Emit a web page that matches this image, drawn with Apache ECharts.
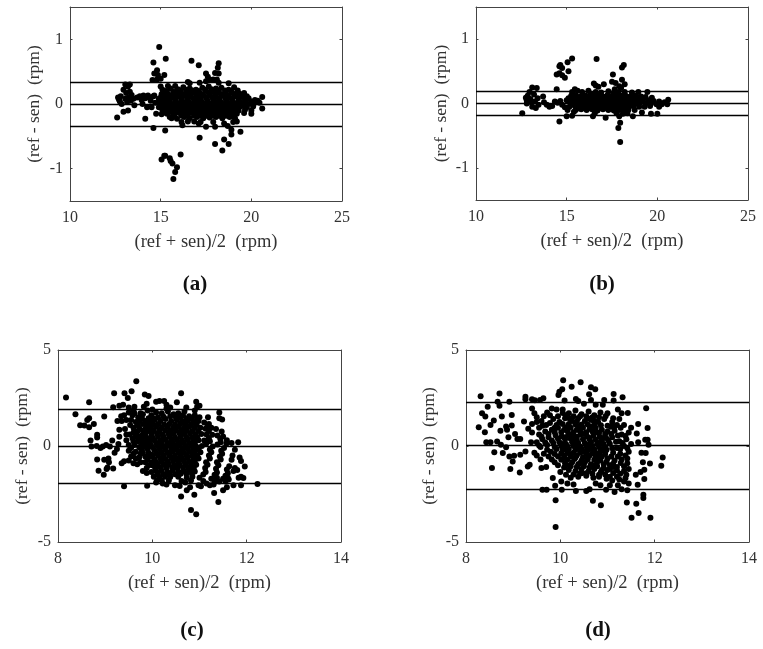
<!DOCTYPE html>
<html><head><meta charset="utf-8">
<script src="https://cdn.jsdelivr.net/npm/echarts@6/dist/echarts.min.js"></script>
<style>html,body{margin:0;padding:0;background:#fff}#c{width:763px;height:649px}</style>
</head><body><div id="c"></div>
<script>
const xTicksTop = [10, 15, 20, 25];
const yTicksTop = [-1, 0, 1];
const xTicksBottom = [8, 10, 12, 14];
const yTicksBottom = [-5, 0, 5];
const xName = '(ref + sen)/2  (rpm)';
const yName = '(ref - sen)  (rpm)';
const limitsA = [0.34, -0.01, -0.34];
const limitsB = [0.19, 0.01, -0.18];
const limitsC = [1.93, -0.03, -1.93];
const limitsD = [2.26, 0.04, -2.26];

const pointsA = [
[14.92,.88],[15.28,.7],[14.6,.64],[16.7,.67],[17.1,.6],[18.2,.63],[18.15,.56],[14.8,.52],[14.65,.47],[14.85,.45],[15.2,.45],[14.55,.37],[14.8,.38],[15,.39],[18,.48],[18.2,.47],[17.5,.47],[17.6,.42],[17.7,.38],[17.5,.35],[17.9,.38],[18.1,.38],[18.2,.33],[17.15,.33],[16.5,.34],[16.6,.32],[18.75,.32],[15,.27],[15.1,.22],[15.4,.28],[15.8,.28],
[15.05,-.86],[15.2,-.8],[15.25,-.8],[15.5,-.84],[15.55,-.88],[15.65,-.92],[16.1,-.78],[15.9,-.98],[15.8,-1.05],[15.7,-1.16],[17.15,-.52],[18,-.62],[18.5,-.55],[18.75,-.62],[18.4,-.72],[14.15,-.23],[12.6,-.21],[14.6,-.37],[15.25,-.41],[19.4,-.43],[18.9,-.4],[18.9,-.47],[18.7,-.34],[17.5,-.35],[18,-.35],[16.2,-.33],[17.1,-.3],[19,-.28],[19.2,-.27],
[12.65,.1],[12.7,.07],[12.75,.04],[12.8,.12],[12.85,0],[12.95,.22],[12.95,-.12],[13.05,.3],[13.05,.08],[13.1,.17],[13.15,.03],[13.2,.27],[13.2,-.1],[13.25,.1],[13.3,.3],[13.3,.19],[13.35,.05],[13.4,.14],[13.5,.08],[13.55,-.02],[13.7,.1],[13.85,.12],[13.95,.06],[14,0],[14.05,.13],[14.15,.09],[14.25,-.05],[14.3,.13],[14.4,.1],[14.45,.05],[14.5,-.05],[14.6,.12],[14.65,.13],[14.7,.02],[14.75,-.15],[14.9,.08],[14.9,-.05],
[15.15,.2],[15.55,.24],[15.95,.23],[16.25,.26],[16.6,.24],[16.95,.22],[17.3,.25],[17.65,.27],[18.05,.24],[18.35,.25],[18.75,.22],[19.05,.26],[19.25,.21],[19.6,.17],
[15.05,.15],[15.4,.16],[15.8,.17],[16.1,.18],[16.45,.19],[16.8,.18],[17.15,.17],[17.5,.2],[17.85,.19],[18.2,.18],[18.55,.17],[18.95,.17],[19.35,.16],[19.75,.12],
[15,.1],[15.3,.12],[15.65,.11],[15.95,.12],[16.3,.13],[16.65,.12],[17,.12],[17.35,.13],[17.7,.14],[18.05,.12],[18.4,.13],[18.75,.11],[19.1,.12],[19.5,.11],[19.85,.09],[20.2,.06],[20.6,.11],
[14.95,.04],[15.2,.06],[15.5,.06],[15.8,.05],[16.15,.07],[16.5,.07],[16.85,.06],[17.2,.07],[17.55,.08],[17.9,.06],[18.25,.07],[18.6,.06],[18.95,.07],[19.3,.06],[19.65,.05],[20,.04],[20.35,.05],
[15.05,0],[15.35,.01],[15.7,0],[16,.01],[16.35,.02],[16.7,0],[17.05,.02],[17.4,.01],[17.75,0],[18.1,.02],[18.45,0],[18.8,.01],[19.15,0],[19.5,.01],[19.85,0],[20.15,.01],[20.45,.02],
[15,-.05],[15.25,-.04],[15.6,-.05],[15.9,-.04],[16.25,-.05],[16.6,-.04],[16.95,-.05],[17.3,-.04],[17.65,-.06],[18,-.04],[18.35,-.05],[18.7,-.04],[19.05,-.05],[19.4,-.04],[19.75,-.05],[20.1,-.04],[20.6,-.07],
[15.1,-.1],[15.45,-.1],[15.8,-.09],[16.1,-.1],[16.45,-.09],[16.8,-.1],[17.15,-.09],[17.5,-.11],[17.85,-.09],[18.2,-.1],[18.55,-.09],[18.9,-.1],[19.3,-.1],[19.65,-.09],[20,-.1],
[15.05,-.16],[15.35,-.15],[15.7,-.15],[16.05,-.14],[16.4,-.15],[16.75,-.14],[17.1,-.15],[17.45,-.16],[17.8,-.15],[18.15,-.14],[18.5,-.15],[18.85,-.14],[19.2,-.15],[19.6,-.14],[20,-.15],
[15.6,-.22],[15.9,-.23],[16.3,-.2],[16.6,-.22],[17,-.2],[17.35,-.22],[17.7,-.21],[18.05,-.2],[18.4,-.22],[18.8,-.2],[19.1,-.22],
[16.15,-.28],[16.5,-.27],[16.85,-.27],[17.2,-.28],[17.9,-.28],[18.5,-.3],[15.5,-.2],
[15.3,.2],[15.7,.19],[16.1,.21],[16.4,.22],[16.75,.21],[17.1,.2],[17.45,.22],[17.8,.23],[18.2,.21],[18.55,.21],[18.9,.2],
[15.2,.14],[15.55,.13],[15.9,.15],[16.25,.15],[16.6,.16],[16.95,.15],[17.3,.15],[17.65,.17],[18,.16],[18.35,.15],[18.7,.14],[19.1,.15],[19.5,.14],
[15.15,.08],[15.45,.09],[15.8,.08],[16.1,.1],[16.45,.1],[16.8,.09],[17.15,.09],[17.5,.1],[17.85,.1],[18.2,.09],[18.55,.1],[18.9,.09],[19.3,.09],[19.7,.07],
[15.2,.03],[15.5,.02],[15.85,.03],[16.2,.04],[16.55,.03],[16.9,.03],[17.25,.04],[17.6,.04],[17.95,.03],[18.3,.03],[18.65,.03],[19,.03],[19.35,.03],
[15.15,-.03],[15.45,-.02],[15.75,-.02],[16.1,-.02],[16.45,-.01],[16.8,-.02],[17.15,-.01],[17.5,-.02],[17.85,-.02],[18.2,-.02],[18.55,-.02],[18.9,-.02],[19.25,-.02],[19.6,-.02],
[15.3,-.07],[15.65,-.08],[16,-.07],[16.35,-.07],[16.7,-.07],[17.05,-.07],[17.4,-.07],[17.75,-.08],[18.1,-.07],[18.45,-.08],[18.8,-.07],[19.2,-.07],
[15.25,-.13],[15.6,-.12],[15.95,-.13],[16.3,-.12],[16.65,-.12],[17,-.12],[17.35,-.13],[17.7,-.13],[18.05,-.12],[18.4,-.12],[18.75,-.12],[19.1,-.12],
[15.75,-.19],[16.15,-.18],[16.5,-.18],[16.85,-.18],[17.2,-.18],[17.55,-.18],[17.9,-.18],[18.25,-.18],[18.6,-.18],[18.95,-.18]
];

const pointsB = [
[15.3,.7],[15.05,.64],[14.65,.6],[14.75,.55],[14.6,.58],[16.65,.69],[18.15,.6],[18.05,.56],[15.1,.5],[14.45,.45],[14.6,.47],[14.75,.44],[14.9,.4],[17.55,.45],[17.5,.34],[17.7,.32],[18.05,.37],[18.2,.3],[17.05,.3],[16.5,.31],[16.6,.28],[16.75,.26],[17.65,.22],[17.9,.27],[18,.24],[14.45,.22],
[14.6,-.28],[17.95,-.3],[17.85,-.38],[17.95,-.6],[12.55,-.15],[15,-.2],[15.3,-.19],[16.45,-.2],[17.15,-.22],[17.9,-.2],[18.65,-.2],[19.15,-.14],[19.65,-.16],[20,-.16],
[12.75,.09],[12.8,.05],[12.85,.12],[12.8,0],[12.95,.18],[13,.07],[13.05,.02],[13.1,.25],[13.1,-.05],[13.2,.14],[13.25,.03],[13.3,-.07],[13.35,.24],[13.4,.08],[13.45,-.02],[13.7,.11],[13.75,.02],[13.9,-.02],[14.05,-.05],[14.2,-.04],[14.35,.03],[14.5,.01],[14.65,.04],[14.75,-.02],[14.9,-.06],[15,.05],[15.05,-.1],
[15.45,.22],[15.6,.2],[15.3,.18],[15.85,.18],[16.2,.2],[16.35,.15],[16.6,.18],[16.9,.17],[17.3,.19],[17.6,.17],[17.85,.18],[18.2,.18],[18.6,.17],[18.95,.18],[19.45,.18],
[15.1,.08],[15.25,.12],[15.5,.13],[15.75,.11],[16,.13],[16.25,.12],[16.5,.12],[16.75,.13],[17,.11],[17.25,.13],[17.5,.12],[17.75,.13],[18,.12],[18.25,.12],[18.5,.11],[18.8,.12],[19.1,.11],[19.35,.1],[19.7,.09],
[15.15,.03],[15.4,.06],[15.65,.07],[15.9,.06],[16.15,.07],[16.4,.06],[16.65,.08],[16.9,.06],[17.15,.07],[17.4,.06],[17.65,.08],[17.9,.07],[18.15,.06],[18.4,.06],[18.65,.05],[18.9,.06],[19.2,.05],[19.5,.05],[19.8,.04],[20.1,.03],[20.4,.02],[20.6,.06],
[15.3,0],[15.55,.01],[15.8,0],[16.05,.01],[16.3,.01],[16.55,0],[16.8,.01],[17.05,.01],[17.3,0],[17.55,.01],[17.8,0],[18.05,.01],[18.3,0],[18.55,.01],[18.8,0],[19.05,.01],[19.35,0],[19.65,0],[19.95,-.01],[20.25,-.01],[20.55,-.01],
[15.15,-.05],[15.45,-.04],[15.7,-.05],[15.95,-.04],[16.2,-.05],[16.45,-.04],[16.7,-.05],[16.95,-.04],[17.2,-.05],[17.45,-.04],[17.7,-.05],[17.95,-.04],[18.2,-.05],[18.45,-.05],[18.7,-.04],[19,-.05],[19.3,-.05],[19.6,-.04],[20.1,-.05],
[15.5,-.1],[15.8,-.09],[16.1,-.1],[16.4,-.09],[16.7,-.11],[17,-.09],[17.3,-.1],[17.6,-.11],[17.9,-.1],[18.15,-.12],[18.4,-.1],[18.75,-.1],[15.4,-.13],[16.55,-.15],[17.75,-.15],[18.1,-.16],[18.35,-.15],
[15.4,.1],[15.6,.09],[15.85,.09],[16.1,.1],[16.35,.09],[16.6,.1],[16.85,.09],[17.1,.1],[17.35,.09],[17.6,.1],[17.85,.1],[18.1,.09],[18.35,.09],[18.6,.09],[18.9,.09],
[15.25,.03],[15.5,.03],[15.75,.03],[16,.03],[16.25,.03],[16.5,.03],[16.75,.04],[17,.03],[17.25,.03],[17.5,.03],[17.75,.04],[18,.03],[18.25,.03],[18.5,.03],[18.75,.03],[19.1,.03],
[15.6,-.03],[15.85,-.02],[16.1,-.02],[16.35,-.02],[16.6,-.02],[16.85,-.02],[17.1,-.02],[17.35,-.02],[17.6,-.02],[17.85,-.02],[18.1,-.02],[18.35,-.02],[18.6,-.02],
[15.65,-.07],[15.95,-.07],[16.25,-.07],[16.55,-.08],[16.85,-.07],[17.15,-.07],[17.45,-.08],[17.75,-.08],[18.05,-.07],[18.3,-.08]
];

const pointsC = [
[8.17,2.52],[8.37,1.65],[8.47,1.08],[8.56,1.07],[8.66,2.28],[8.62,1.36],[8.66,1.45],[8.66,.98],[8.76,1.15],[8.69,.29],[8.71,-.03],[8.83,.58],[8.83,.44],[8.83,-.7],[8.86,-1.29],[8.98,1.53],[8.97,-1.5],[9.03,-1.2],[9.05,-1.12],[9.19,2.75],[9.17,2.02],[9.17,-1.17],[9.41,2.75],[9.56,2.85],[9.48,2.5],[9.66,3.37],[9.84,2.68],[9.92,2.61],[9.4,-2.1],[9.89,-2.07],[10.61,2.75],[10.52,2.28],[10.61,-2.63],[10.82,-3.33],[10.93,-3.56],[10.89,-2.54],[11.4,-2.92],[11.31,-2.45],[12.23,-1.98],[11.96,-1.07],[11.82,.2],[11.93,-1.67],
[8.82,0],[8.9,-.1],[8.95,-.03],[9.02,.05],[9.1,-.02],[9.15,.28],[8.98,-.72],[9.07,-.65],[9.08,-.85],[9.2,-.35],[9.25,-.15],[9.28,.1],[9.3,.85],[9.3,.48],[9.26,1.3],[9.35,1.3],[9.34,1.55],[9.3,2.1],[9.38,2.15],[9.4,1.6],[9.42,.88],[9.35,-.9],[9.4,-.8],[9.45,.3],[9.5,-.25],[9.55,-.55],[9.52,.6],[9.53,1.1],[9.5,2],[9.58,1.6],[9.6,1.85],[9.62,2.05],[9.6,-.9],[9.65,-.3],[9.7,.25],[9.68,.75],[9.72,1.3],[9.75,-.85],[9.8,1.65],[9.82,2.05],[9.88,2.2],[9.85,-.55],[9.8,-1.3],[9.88,-1.4],[9.92,-1],[9.9,.4],[9.93,1.1],[9.98,-1.35],[10,1.9],
[10.15,2.35],[10.25,2.35],[10.3,2.15],[10.08,2.3],[10.72,2],[10.68,1.8],[10.93,2.3],[10.95,2.05],[10.9,1.85],[11,2.1],[11.42,1.75],[11.42,1.45],[11.48,1.38],[11.18,1.5],[10.38,2],[10.3,1.95],
[9.98,1.6],[10.08,1.75],[10.2,1.7],[10.33,1.8],[10.45,1.65],[10.55,1.7],[10.65,1.6],[10.78,1.55],[10.9,1.6],[11,1.5],
[9.95,1.25],[10.05,1.35],[10.17,1.3],[10.28,1.4],[10.4,1.3],[10.52,1.35],[10.63,1.28],[10.75,1.32],[10.87,1.25],[10.98,1.3],[11.1,1.22],[11.2,1.15],
[9.85,.9],[9.97,.95],[10.08,1],[10.2,.95],[10.32,1],[10.44,.95],[10.55,1],[10.67,.95],[10.78,1],[10.9,.95],[11.02,.95],[11.13,.9],[11.25,.95],[11.35,.88],[11.47,.75],
[9.78,.55],[9.98,.62],[10.1,.65],[10.22,.6],[10.34,.65],[10.45,.62],[10.57,.68],[10.68,.62],[10.8,.66],[10.92,.6],[11.04,.62],[11.15,.6],[11.27,.58],[11.38,.55],[11.5,.5],[11.58,.3],
[9.82,.1],[9.95,.25],[10.05,.3],[10.17,.3],[10.28,.33],[10.4,.28],[10.52,.33],[10.63,.3],[10.75,.32],[10.87,.28],[10.98,.3],[11.1,.28],[11.22,.25],[11.45,.2],[11.57,.12],[11.68,.15],
[9.9,-.15],[10,-.05],[10.12,0],[10.24,-.02],[10.35,.02],[10.47,-.03],[10.58,.02],[10.7,-.02],[10.82,0],[10.93,-.03],[11.05,0],[11.28,-.02],[11.52,-.1],[11.75,-.2],
[9.72,-.6],[9.98,-.45],[10.08,-.35],[10.2,-.32],[10.32,-.35],[10.43,-.3],[10.55,-.33],[10.67,-.35],[10.78,-.3],[10.9,-.35],[11.02,-.32],[11.25,-.33],[11.48,-.4],[11.7,-.5],
[10.05,-.7],[10.17,-.65],[10.28,-.68],[10.4,-.62],[10.52,-.66],[10.63,-.65],[10.75,-.62],[10.87,-.67],[10.98,-.65],[11.22,-.65],[11.45,-.7],[11.68,-.72],[11.85,-.6],[11.88,-.78],
[10,-1],[10.12,-1],[10.24,-.98],[10.35,-.95],[10.47,-1],[10.58,-.98],[10.7,-.95],[10.82,-1],[10.93,-.98],[11.17,-.98],[11.4,-1],[11.63,-1.05],[11.75,-1.15],
[10.08,-1.32],[10.2,-1.3],[10.32,-1.35],[10.43,-1.28],[10.55,-1.33],[10.67,-1.3],[10.78,-1.25],[10.9,-1.33],[11.13,-1.35],[11.37,-1.38],[11.6,-1.42],[11.72,-1.3],[11.8,-1.25],
[10.03,-1.6],[10.15,-1.65],[10.27,-1.6],[10.38,-1.62],[10.55,-1.6],[10.73,-1.65],[10.85,-1.6],[11,-1.65],[11.25,-1.7],[11.37,-1.65],[11.5,-1.7],[11.6,-1.65],[11.83,-1.65],[11.88,-1.6],
[10.08,-1.9],[10.22,-1.95],[10.3,-2],[10.48,-2.05],[10.58,-2.08],[10.7,-1.9],[10.8,-2.15],[10.73,-2.3],[10.98,-2.05],[11.03,-2.1],[11.15,-1.95],[11.22,-2.05],[11.3,-2],[11.42,-1.85],[11.5,-2.3],[11.58,-2.15],[11.72,-2.05],[11.88,-2.05],
[10.02,1.45],[10.12,1.5],[10.24,1.52],[10.38,1.55],[10.5,1.48],[10.6,1.47],[10.72,1.42],[10.84,1.4],[10.95,1.42],
[9.9,1.08],[10.02,1.12],[10.13,1.15],[10.25,1.12],[10.36,1.15],[10.48,1.12],[10.59,1.15],[10.71,1.12],[10.82,1.12],[10.94,1.1],[11.17,1.02],
[9.82,.72],[9.92,.78],[10.03,.8],[10.15,.8],[10.27,.82],[10.38,.8],[10.5,.82],[10.61,.8],[10.73,.82],[10.85,.78],[10.97,.78],[11.2,.78],
[9.78,.3],[9.88,.42],[10,.45],[10.12,.48],[10.24,.47],[10.36,.48],[10.48,.46],[10.6,.48],[10.72,.47],[10.84,.46],[10.95,.45],[11.2,.42],[11.44,.38],
[9.75,-.1],[9.85,-.02],[9.96,.08],[10.08,.15],[10.2,.14],[10.32,.16],[10.44,.13],[10.55,.16],[10.67,.14],[10.78,.15],[10.9,.13],[11.14,.12],[11.38,.08],
[9.8,-.35],[9.92,-.35],[10.04,-.2],[10.16,-.17],[10.28,-.18],[10.4,-.15],[10.52,-.18],[10.63,-.17],[10.75,-.16],[10.87,-.18],[10.98,-.18],[11.22,-.18],[11.46,-.25],
[9.9,-.7],[10,-.55],[10.12,-.5],[10.24,-.5],[10.36,-.48],[10.48,-.5],[10.6,-.5],[10.72,-.48],[10.84,-.5],[10.95,-.5],[11.2,-.5],[11.43,-.55],
[9.98,-.85],[10.08,-.85],[10.2,-.82],[10.32,-.82],[10.44,-.8],[10.55,-.82],[10.67,-.8],[10.78,-.82],[10.9,-.82],[11.14,-.85],[11.37,-.85],
[10.06,-1.15],[10.18,-1.15],[10.3,-1.15],[10.42,-1.12],[10.53,-1.15],[10.65,-1.12],[10.76,-1.12],[10.88,-1.15],[11.12,-1.15],[11.35,-1.18],[11.58,-1.22],
[10.12,-1.48],[10.24,-1.48],[10.36,-1.45],[10.48,-1.47],[10.6,-1.45],[10.72,-1.45],[10.84,-1.45],[11.08,-1.48],[11.32,-1.5],[11.55,-1.55],
[10.1,-1.78],[10.2,-1.8],[10.35,-1.8],[10.62,-1.82],[10.82,-1.8],[11.08,-1.82],[11.32,-1.82],[11.55,-1.85],[11.62,-1.75],
[9.5,1.75],[9.62,1.7],[9.7,1.5],[9.78,1.45],[9.85,1.3],[9.68,1.1],[9.6,.95],[9.72,.95],[9.58,.4],[9.62,.05],[9.72,-.05],[9.55,-.1],[9.65,-.65],[9.78,-.2],
[9.45,1.35],[9.55,1.35],[9.65,1.25],[9.8,1.15],[9.75,1.7],[9.9,1.85],[9.92,1.45],[9.45,.6],[9.6,.7],[9.65,.5],[9.8,.8],[9.72,.5],[9.85,.6],[9.5,.05],[9.6,.25],[9.78,.05],[9.88,.2],[9.6,-.4],[9.75,-.4],[9.5,-.75],[9.68,-.95],[9.85,-.85],[9.92,-.55],[9.88,-1.15]
];

const pointsD = [
[8.31,2.59],[8.71,2.73],[8.27,.98],[8.34,1.7],[8.41,1.53],[8.46,2.05],[8.4,.72],[8.43,.2],[8.52,.2],[8.55,-1.15],[8.6,-.32],[8.59,1.33],[8.52,1.1],[8.67,2.31],[8.71,2.09],[8.73,.79],[8.66,.23],[8.76,1.53],[8.74,.06],[8.78,-.37],[8.85,1.01],[8.87,.84],[8.9,.46],[8.85,-.06],[8.92,2.31],[8.97,1.62],[8.97,1.07],[8.92,-.55],[8.99,-.81],[8.94,-1.2],[9.02,-.51],[9.04,.63],[9.09,.37],[9.15,.36],[9.14,-1.38],[9.15,-.46],[9.23,1.27],[9.26,2.57],[9.26,2.43],[9.26,-.29],[9.31,-1.07],[9.35,-.98],
[9.9,-4.22],[9.9,-2.82],[10.69,-2.85],[10.86,-3.08],[11.41,-2.94],[11.61,-3.01],[11.51,-3.74],[11.66,-3.49],[11.91,-3.74],[11.76,-2.54],[11.76,-2.71],[12.17,-.6],[12.14,-1.03],[11.9,-.91],[11.82,1.97],[11.85,.94],[11.85,.32],[11.8,.32],[11.87,.06],[11.81,-.37],[11.78,-1.24],[11.78,-1.72],[11.64,-2.02],
[10.06,3.42],[10.43,3.32],[10.24,3.09],[10.65,3.06],[10.74,2.95],[10.04,2.95],[9.98,2.83],[9.96,2.66],[10.61,2.69],[11.13,2.71],[11.32,2.54],[11.13,2.37],[10.33,2.45],[10.09,2.37],[10.93,2.4],[9.64,2.49],[9.57,2.4],[9.4,2.43],[9.46,2.38],[10.38,2.35],[10.65,2.4],[10.5,2.2],
[9.62,-2.28],[9.71,-2.28],[9.89,-2.07],[9.84,-1.67],[10.03,-2.28],[10.02,-1.85],[10.15,-1.95],[10.28,-2],[10.33,-2.35],[10.55,-2.35],[10.62,-2.25],[10.75,-1.95],[10.85,-2.05],[10.97,-2.28],[11.05,-2.05],[11.15,-2.4],[11.22,-2.05],[11.3,-2.25],[11.42,-2.3],[11.45,-1.95],[11.6,-1.5],[11.7,-1.35],[11.75,-.85],[11.72,-.35],[11.65,.2],[11.62,.65],[11.65,1.15],[11.5,.95],[11.43,1.72],[11.22,1.9],[11.3,1.7],[10.9,2.15],[10.75,2.15],[9.4,1.95],[9.45,1.7],[9.5,1.5],[9.5,1.25],[9.4,1.15],[9.32,.9],[9.4,.7],[9.38,.2],[9.45,-.35],[9.5,-.5],[9.6,-1.15],[9.58,-.7],[9.7,-1.1],
[9.6,1.3],[9.72,1.75],[9.82,1.95],[9.92,1.9],[10.05,1.9],[10.18,1.7],[10.32,1.85],[10.45,1.65],[10.6,1.8],[10.72,1.6],[10.85,1.75],[11,1.7],[11.1,1.25],
[9.55,.95],[9.7,1.1],[9.85,1.4],[9.98,1.25],[10.1,1.45],[10.25,1.3],[10.38,1.45],[10.52,1.3],[10.66,1.35],[10.8,1.25],[10.93,1.4],[11.07,1],[11.2,1.1],[11.35,1.1],
[9.55,.6],[9.68,.75],[9.82,.85],[9.95,.95],[10.08,.85],[10.22,.95],[10.35,.85],[10.48,.95],[10.62,.88],[10.75,.95],[10.88,.85],[11,.75],[11.15,.8],[11.3,.6],[11.45,.7],
[9.5,.2],[9.62,.35],[9.75,.45],[9.9,.55],[10.03,.5],[10.17,.6],[10.3,.5],[10.43,.6],[10.57,.5],[10.7,.55],[10.83,.48],[10.97,.42],[11.1,.45],[11.25,.25],[11.4,.35],
[9.58,-.05],[9.72,.05],[9.85,.15],[9.98,.2],[10.12,.1],[10.25,.2],[10.38,.15],[10.52,.15],[10.65,.2],[10.78,.1],[10.92,.1],[11.05,.12],[11.2,-.1],[11.35,0],[11.5,.1],
[9.65,-.4],[9.8,-.3],[9.92,-.15],[10.05,-.2],[10.18,-.15],[10.32,-.2],[10.45,-.15],[10.58,-.22],[10.72,-.18],[10.85,-.25],[10.98,-.2],[11.12,-.35],[11.27,-.4],[11.45,-.3],
[9.82,-.7],[9.95,-.55],[10.08,-.5],[10.22,-.55],[10.35,-.5],[10.48,-.58],[10.62,-.5],[10.75,-.55],[10.88,-.55],[11,-.65],[11.15,-.75],[11.3,-.7],[11.42,-.65],
[9.95,-1],[10.1,-.9],[10.25,-.85],[10.38,-.95],[10.52,-.85],[10.65,-.95],[10.78,-.85],[10.92,-.95],[11.05,-1],[11.2,-1.1],[11.35,-1.05],[11.45,-1.2],
[10,-1.35],[10.18,-1.25],[10.32,-1.3],[10.45,-1.2],[10.6,-1.3],[10.72,-1.2],[10.86,-1.35],[11,-1.25],[11.12,-1.4],[11.27,-1.45],[11.4,-1.5],
[10.22,-1.65],[10.38,-1.6],[10.55,-1.55],[10.7,-1.65],[10.82,-1.6],[10.98,-1.7],[11.1,-1.8],[11.25,-1.75],[11.35,-1.85],
[9.65,1.55],[9.78,1.6],[9.95,1.55],[10.12,1.6],[10.28,1.55],[10.42,1.55],[10.55,1.55],[10.68,1.5],[10.82,1.5],[10.96,1.55],[11.12,1.45],[11.25,1.4],
[9.62,1.05],[9.78,1.2],[9.92,1.1],[10.05,1.15],[10.18,1.15],[10.32,1.12],[10.45,1.12],[10.58,1.12],[10.72,1.1],[10.86,1.08],[11,1.05],[11.15,1.02],[11.28,.95],
[9.6,.5],[9.75,.62],[9.88,.72],[10.02,.72],[10.15,.78],[10.28,.72],[10.42,.75],[10.55,.72],[10.68,.75],[10.82,.68],[10.95,.62],[11.08,.62],[11.22,.55],[11.38,.52],
[9.55,.02],[9.68,.18],[9.82,.28],[9.95,.38],[10.1,.35],[10.22,.38],[10.35,.32],[10.48,.35],[10.62,.35],[10.75,.32],[10.88,.3],[11.02,.28],[11.18,.22],[11.32,.15],
[9.72,-.2],[9.88,-.05],[10.02,0],[10.15,-.02],[10.28,0],[10.42,-.02],[10.55,-.03],[10.68,0],[10.82,-.05],[10.95,-.05],[11.1,-.12],[11.27,-.15],[11.42,-.12],
[9.75,-.55],[9.88,-.42],[10.02,-.38],[10.15,-.35],[10.28,-.35],[10.42,-.35],[10.55,-.4],[10.68,-.38],[10.82,-.38],[10.95,-.42],[11.08,-.55],[11.22,-.55],[11.38,-.5],
[9.88,-.85],[10.02,-.72],[10.15,-.7],[10.3,-.68],[10.45,-.75],[10.58,-.7],[10.72,-.72],[10.85,-.75],[10.98,-.82],[11.12,-.92],[11.28,-.88],[11.42,-.9],
[10.08,-1.12],[10.22,-1.05],[10.35,-1.1],[10.5,-1.05],[10.62,-1.12],[10.78,-1.05],[10.92,-1.15],[11.05,-1.2],[11.2,-1.28],[11.35,-1.3],
[10.12,-1.5],[10.28,-1.48],[10.42,-1.42],[10.55,-1.42],[10.68,-1.45],[10.82,-1.5],[10.95,-1.48],[11.05,-1.6],[11.2,-1.6],[11.38,-1.68],
[10.2,1.42],[10.35,1.28],[10.6,1.42],[10.72,1.32],[10.05,1.72],[10.4,1.02],[10.65,1.02],[10.12,.98],[9.88,.95],[10.25,.62],[10.5,.62],[10.78,.72],[10.1,.45],[10.35,.48],[10.62,.42],[10.88,.42],[10.05,.1],[10.3,.25],[10.58,.05],[10.85,.2],[10.12,-.12],[10.38,-.1],[10.65,-.12],[10.9,-.15],[10.2,-.42],[10.48,-.28],[10.72,-.3],[10.95,-.32],[10.08,-.62],[10.32,-.6],[10.58,-.62],[10.82,-.62],[10.18,-1],[10.42,-.88],[10.7,-1.02],[10.45,-1.42],[10.88,-1.25],[11.12,-1.1]
];

const chart = echarts.init(document.getElementById('c'), null, {renderer: 'canvas'});
const FONT = '"Liberation Serif", serif';
const TEXT = '#333';
const FRAME = '#444';

function panelAxes(xMin, xMax, yMin, yMax, xTicks, yTicks, gridIndex, yGap) {
  const hidden = {show: false};
  const line = {show: true, onZero: false, lineStyle: {color: FRAME, width: 1}};
  const tick = (vals) => ({show: true, inside: true, length: 2.5, customValues: vals, lineStyle: {color: FRAME, width: 1}});
  const base = {type: 'value', gridIndex, splitLine: hidden};
  return {
    x: [
      {...base, min: xMin, max: xMax, position: 'bottom', name: xName, nameLocation: 'middle', nameGap: 32,
       nameTextStyle: {fontFamily: FONT, fontSize: 18.5, color: TEXT},
       axisLine: line, axisTick: tick(xTicks),
       axisLabel: {customValues: xTicks, margin: 9, fontFamily: FONT, fontSize: 16, color: TEXT}},
      {...base, min: xMin, max: xMax, position: 'top', axisLine: line, axisTick: tick(xTicks), axisLabel: hidden}
    ],
    y: [
      {...base, min: yMin, max: yMax, position: 'left', name: yName, nameLocation: 'middle', nameGap: yGap,
       nameTextStyle: {fontFamily: FONT, fontSize: 17.5, color: TEXT},
       axisLine: line, axisTick: tick(yTicks),
       axisLabel: {customValues: yTicks, margin: 7, fontFamily: FONT, fontSize: 16, color: TEXT}},
      {...base, min: yMin, max: yMax, position: 'right', axisLine: line, axisTick: tick(yTicks), axisLabel: hidden}
    ]
  };
}

const panels = [
  {pts: pointsA, lim: limitsA, grid: {left: 70, top: 7, width: 272, height: 194}, r: [10, 25, -1.5, 1.5], xt: xTicksTop, yt: yTicksTop, gap: 27, letter: 'a', lx: 190, ly: 280},
  {pts: pointsB, lim: limitsB, grid: {left: 476, top: 7, width: 272, height: 193}, r: [10, 25, -1.5, 1.5], xt: xTicksTop, yt: yTicksTop, gap: 26, letter: 'b', lx: 597, ly: 280},
  {pts: pointsC, lim: limitsC, grid: {left: 58, top: 350, width: 283, height: 192}, r: [8, 14, -5, 5], xt: xTicksBottom, yt: yTicksBottom, gap: 27, letter: 'c', lx: 187, ly: 626},
  {pts: pointsD, lim: limitsD, grid: {left: 466, top: 350, width: 283, height: 192}, r: [8, 14, -5, 5], xt: xTicksBottom, yt: yTicksBottom, gap: 28, letter: 'd', lx: 593, ly: 626}
];

const option = {animation: false, backgroundColor: '#fff', grid: [], xAxis: [], yAxis: [], series: [], title: []};
panels.forEach((p, i) => {
  option.grid.push({...p.grid, containLabel: false});
  const ax = panelAxes(p.r[0], p.r[1], p.r[2], p.r[3], p.xt, p.yt, i, p.gap);
  const xi = option.xAxis.length, yi = option.yAxis.length;
  option.xAxis.push(...ax.x);
  option.yAxis.push(...ax.y);
  option.series.push({
    type: 'scatter', xAxisIndex: xi, yAxisIndex: yi, data: p.pts, symbolSize: 6,
    itemStyle: {color: '#000', opacity: 1}, silent: true,
    markLine: {silent: true, symbol: 'none', label: {show: false}, animation: false,
      lineStyle: {color: '#000', width: 1.3, type: 'solid'},
      data: p.lim.map(v => ({yAxis: v}))}
  });
  option.title.push({
    text: '{n|(}{b|' + p.letter + '}{n|)}', left: p.lx, top: p.ly, textAlign: 'center', textVerticalAlign: 'middle',
    textStyle: {rich: {
      n: {fontFamily: FONT, fontSize: 21, color: '#111'},
      b: {fontFamily: FONT, fontSize: 21, fontWeight: 'bold', color: '#111'}
    }}
  });
});
chart.setOption(option);
</script>
</body></html>
